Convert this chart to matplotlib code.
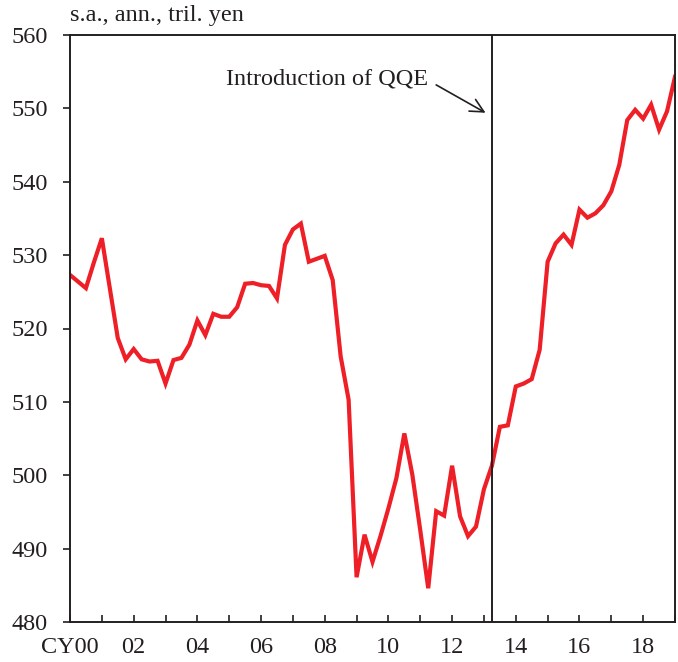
import matplotlib
matplotlib.use("Agg")
from matplotlib import pyplot as plt
import numpy as np

# quarterly values, CY2000Q1 - CY2019Q1 (s.a., ann., tril. yen)
values = [
    527.3, 526.4, 525.5, 529.0, 532.3, 525.5, 518.7, 515.8,
    517.2, 515.8, 515.5, 515.6, 512.5, 515.7, 516.0, 517.8,
    521.1, 519.1, 522.0, 521.6, 521.6, 522.9, 526.1, 526.2,
    525.9, 525.8, 524.1, 531.4, 533.5, 534.3, 529.1, 529.5,
    529.9, 526.6, 516.2, 510.3, 486.1, 491.9, 488.2, 491.7,
    495.5, 499.6, 505.7, 500.1, 492.5, 484.6, 495.1, 494.5,
    501.3, 494.4, 491.7, 493.0, 498.1, 501.3, 506.6, 506.8,
    512.1, 512.5, 513.1, 517.1, 529.1, 531.6, 532.8, 531.4,
    536.2, 535.1, 535.7, 536.8, 538.7, 542.3, 548.4, 549.8,
    548.6, 550.5, 547.1, 549.6, 554.3,
]
start_year = 2000
qqe_date = 2013.25
year_ticks = list(range(2000, 2020))
label_years = list(range(2000, 2019, 2))
tick_labels = ["CY00"] + ["%02d" % (y % 100) for y in label_years[1:]]
y_ticks = list(range(480, 561, 10))

plt.rcParams['font.family'] = ['Liberation Serif', 'DejaVu Serif']
plt.rcParams['font.size'] = 17.5

x = start_year + np.arange(len(values)) / 4.0

fig = plt.figure(figsize=(6.78, 6.62), dpi=100)
ax = fig.add_axes([70 / 678, 1 - 622 / 662, 605 / 678, 587 / 662])

ax.plot(x, values, color="#ee1f26", lw=3.0, solid_joinstyle="miter")
ax.axvline(qqe_date, color="#231f20", lw=1.4)

ax.set_xlim(2000, 2019)
ax.set_ylim(480, 560)
ax.set_yticks(y_ticks)
ax.set_xticks(year_ticks)
ax.set_xticklabels([tick_labels[label_years.index(y)] if y in label_years else "" for y in year_ticks])

ax.tick_params(axis="y", direction="out", length=5, width=1.2, pad=11, colors="#231f20")
ax.tick_params(axis="x", direction="in", length=5, width=1.2, pad=11, colors="#231f20")
for s in ax.spines.values():
    s.set_linewidth(1.4)
    s.set_color("#231f20")

ax.text(0.0, 1.015, "s.a., ann., tril. yen", transform=ax.transAxes,
        ha="left", va="bottom", color="#231f20")

# label and arrow pointing at the QQE line
ax.text(2011.24, 554.0, "Introduction of QQE", ha="right", va="center", color="#231f20")
ax.annotate("", xy=(2013.05, 549.4), xytext=(2011.5, 553.2),
            arrowprops=dict(arrowstyle="->", color="#231f20", lw=1.2,
                            shrinkA=0, shrinkB=0, mutation_scale=24))

fig.savefig("out.png", dpi=100)
